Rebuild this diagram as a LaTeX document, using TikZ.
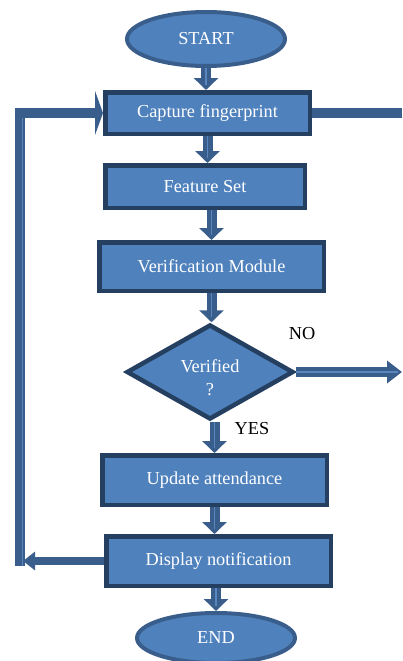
\documentclass[tikz,border=0pt]{standalone}
\usepackage{fontspec}
\setmainfont{Liberation Serif}
\usetikzlibrary{shapes.geometric,arrows.meta}
\definecolor{boxfill}{HTML}{4F81BD}
\definecolor{boxedge}{HTML}{243F60}
\definecolor{arrc}{HTML}{3A5E8C}
\definecolor{stripec}{HTML}{5A86BF}
\begin{document}
\begin{tikzpicture}[x=1pt,y=-1pt,
  font=\fontsize{18.3}{23}\selectfont,
  proc/.style={rectangle, draw=boxedge, line width=4.5pt, fill=boxfill, text=white, inner sep=0pt},
  term/.style={ellipse, draw=arrc, line width=4pt, fill=boxfill, text=white, inner sep=0pt},
  dec/.style={diamond, draw=boxedge, line width=4.5pt, fill=boxfill, text=white, inner sep=0pt, shape aspect=1.76},
  flow/.style={draw=arrc, line width=10pt, -{Triangle[width=24pt,length=12pt]}},
  stripe/.style={draw=stripec, line width=1.8pt, shorten >=5pt},
  loopline/.style={draw=arrc, line width=10pt},
  lbl/.style={text=black}]
\useasboundingbox (0,0) rectangle (402,661);

% nodes
\node[term, minimum width=158pt, minimum height=54pt] (start) at (206,39) {START};
\node[proc, minimum width=204.5pt, minimum height=41.5pt] (cap) at (207.5,113) {Capture fingerprint};
\node[proc, minimum width=199.5pt, minimum height=42.5pt] (feat) at (205,186.5) {Feature Set};
\node[proc, minimum width=224.5pt, minimum height=48.5pt] (ver) at (211.5,266.5) {Verification Module};
\node[dec, minimum width=167pt, minimum height=95pt] (dia) at (210,372)
  {\raisebox{-7pt}[\height][\depth]{\begin{tabular}{@{}c@{}}Verified\\?\end{tabular}}};
\node[proc, minimum width=224.5pt, minimum height=49.5pt] (upd) at (214.5,480) {Update attendance};
\node[proc, minimum width=224.5pt, minimum height=49.5pt] (disp) at (218.5,561) {Display notification};
\node[term, minimum width=158pt, minimum height=50pt] (end) at (216,638) {END};

\node[lbl] (no) at (302,334) {NO};
\node[lbl] (yes) at (252,429) {YES};

\coordinate (noend) at (402,372);
\coordinate (capout) at (402,111);
\coordinate (lb) at (20,566);
\coordinate (lt) at (20,113);
\coordinate (lbh) at (23,561);

% vertical flow arrows
\draw[flow] (start.south) -- (start.south |- cap.north);
\draw[stripe] (start.south) -- (start.south |- cap.north);
\draw[flow] (cap.south) -- (cap.south |- feat.north);
\draw[stripe] (cap.south) -- (cap.south |- feat.north);
\draw[flow] (ver.north |- feat.south) -- (ver.north);
\draw[stripe] (ver.north |- feat.south) -- (ver.north);
\draw[flow] (ver.south) -- (ver.south |- dia.north);
\draw[stripe] (ver.south) -- (ver.south |- dia.north);
\draw[flow] (upd.north |- dia.south) -- (upd.north);
\draw[stripe] (upd.north |- dia.south) -- (upd.north);
\draw[flow] (upd.south) -- (upd.south |- disp.north);
\draw[stripe] (upd.south) -- (upd.south |- disp.north);
\draw[flow] (end.north |- disp.south) -- (end.north);
\draw[stripe] (end.north |- disp.south) -- (end.north);

% NO branch
\draw[flow, -{Triangle[width=22pt,length=15pt]}] (dia.east) -- (noend);
\draw[stripe, shorten >=4pt] (dia.east) -- (noend);

% line leaving capture to the right
\draw[loopline] (cap.east) -- (cap.east -| capout);

% loop back
\draw[flow, line width=8pt, -{Triangle[width=18pt,length=12pt]}] (disp.west) -- (lbh);
\draw[loopline, -{Triangle[width=44pt,length=8pt]}] (lb) -- (lt) -- (cap.west);
\draw[draw=stripec, line width=1.8pt] ([xshift=2.5pt]lb) -- ([xshift=2.5pt,yshift=-5pt]lt);
\end{tikzpicture}
\end{document}
